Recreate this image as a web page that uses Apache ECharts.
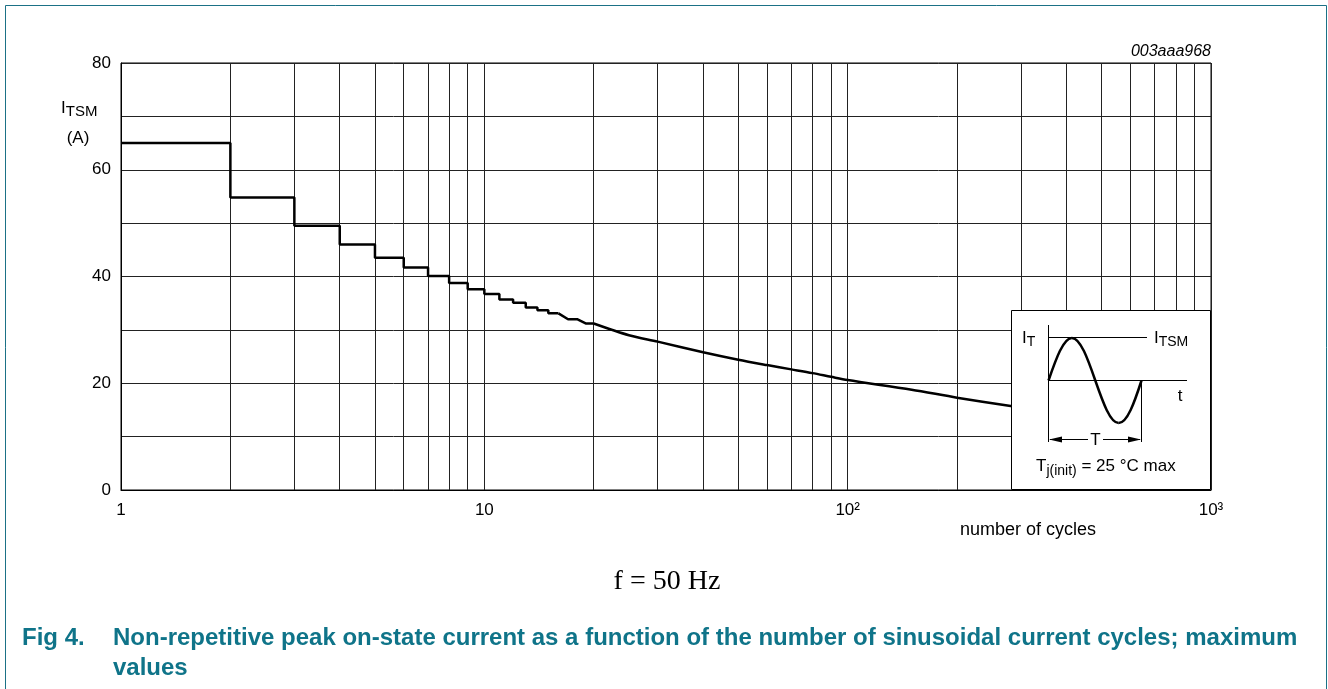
<!DOCTYPE html>
<html><head><meta charset="utf-8">
<script src="https://cdn.jsdelivr.net/npm/echarts@6/dist/echarts.min.js"></script>
<style>html,body{margin:0;padding:0;background:#fff}#c{width:1328px;height:689px}</style>
</head><body><div id="c"></div>
<script>
// ---- data ----
const stepCycles  = [1,2,3,4,5,6,7,8,9,10,11,12,13,14,15,16];
const stepCurrent = [65,54.8,49.5,46.0,43.5,41.7,40.1,38.8,37.6,36.7,35.7,35.1,34.2,33.7,33.1,33.1];
const tailCycles  = [16,17,18,19,20];
const tailCurrent = [33.1,32.0,32.0,31.2,31.2];
const curveCycles  = [20,25,30,40,50,60,70,80,90,100,150,200,290];
const curveCurrent = [31.2,29.0,27.8,25.8,24.4,23.4,22.6,21.9,21.2,20.6,18.8,17.3,15.6];
const minorGridCycles = [2,3,4,5,6,7,8,9,20,30,40,50,60,70,80,90,200,300,400,500,600,700,800,900];
const xTickValues = [1,10,100,1000];
const xTickLabels = ['1','10','10²','10³'];
const yTickValues = [0,20,40,60,80];
const yTickLabels = ['0','20','40','60','80'];

const SANS = '"Liberation Sans", Arial, sans-serif';
const TEAL = '#0f7489';
const ctx = document.createElement('canvas').getContext('2d');
function tw(t, f){ ctx.font = f; return ctx.measureText(t).width; }
function txt(x, y, t, f, opt){
  opt = opt || {};
  return {type:'text', x:x, y:y, z:100, silent:true,
    style:{text:t, font:f, fill:opt.fill||'#000', align:opt.align||'left', verticalAlign:opt.va||'middle'}};
}
function subText(x, y, main, sub, mainF, subF, dy){
  const w = tw(main, mainF);
  return [txt(x, y, main, mainF), txt(x + w, y + dy, sub, subF)];
}
function line(x1,y1,x2,y2,color,w){
  return {type:'line', z:100, silent:true, shape:{x1:x1,y1:y1,x2:x2,y2:y2}, style:{stroke:color||'#000', lineWidth:w||1}};
}
function bez(x1,y1,c1x,c1y,c2x,c2y,x2,y2){
  return {type:'bezierCurve', z:101, silent:true,
    shape:{x1:x1,y1:y1,cpx1:c1x,cpy1:c1y,cpx2:c2x,cpy2:c2y,x2:x2,y2:y2},
    style:{fill:null, stroke:'#000', lineWidth:2.5}};
}

const chart = echarts.init(document.getElementById('c'));

const graphics = [];
// page frame
graphics.push(line(5.5,5.5,1326.5,5.5,'#1b7186',1));
graphics.push(line(5.5,5.5,5.5,689,'#1b7186',1));
graphics.push(line(1326.5,5.5,1326.5,689,'#1b7186',1));
// figure code
graphics.push(txt(1211, 52, '003aaa968', 'italic 16px ' + SANS, {align:'right'}));
// y-axis name
graphics.push(...subText(61, 108.5, 'I', 'TSM', '17px ' + SANS, '15px ' + SANS, 3));
graphics.push(txt(78, 138, '(A)', '17px ' + SANS, {align:'center'}));
// x-axis name
graphics.push(txt(1028, 530, 'number of cycles', '18px ' + SANS, {align:'center'}));
// frequency note
graphics.push(txt(667, 582, 'f = 50 Hz', '28px "Liberation Serif", "Times New Roman", serif', {align:'center'}));
// caption
graphics.push(txt(22, 638, 'Fig 4.', 'bold 24px ' + SANS, {fill:TEAL}));
graphics.push(txt(113, 638, 'Non-repetitive peak on-state current as a function of the number of sinusoidal current cycles; maximum', 'bold 24px ' + SANS, {fill:TEAL}));
graphics.push(txt(113, 668, 'values', 'bold 24px ' + SANS, {fill:TEAL}));

// inset
const inset = [];
inset.push({type:'rect', z:99, silent:true, shape:{x:1011.5,y:310.5,width:199,height:179}, style:{fill:'#fff', stroke:'#000', lineWidth:1}});
inset.push(line(1048.5,325,1048.5,442));
inset.push(line(1048.5,337.5,1147,337.5));
inset.push(line(1048.5,380.5,1187,380.5));
inset.push(line(1141.5,380.5,1141.5,442));
inset.push(line(1050,439.5,1088,439.5));
inset.push(line(1103,439.5,1140,439.5));
inset.push({type:'polygon', z:100, silent:true, shape:{points:[[1049,439.5],[1062,436.5],[1062,442.5]]}, style:{fill:'#000'}});
inset.push({type:'polygon', z:100, silent:true, shape:{points:[[1141,439.5],[1128,436.5],[1128,442.5]]}, style:{fill:'#000'}});
inset.push(bez(1048.5,380.5, 1056.1,358.7, 1063.4,338, 1071.9,338));
inset.push(bez(1071.9,338, 1080.4,338, 1087.7,358.7, 1095.3,380.5));
inset.push(bez(1095.3,380.5, 1102.9,402.3, 1110.2,423, 1118.7,423));
inset.push(bez(1118.7,423, 1127.2,423, 1134.5,402.3, 1141.5,380.5));
inset.push(...subText(1022, 338, 'I', 'T', '17px ' + SANS, '14px ' + SANS, 4.5));
inset.push(...subText(1154, 338, 'I', 'TSM', '17px ' + SANS, '14px ' + SANS, 4));
inset.push(txt(1180, 396, 't', '17px ' + SANS, {align:'center'}));
inset.push(txt(1095.5, 440.5, 'T', '17px ' + SANS, {align:'center'}));
(function(){
  const f16 = '17px ' + SANS, f12 = '14px ' + SANS;
  let x = 1036;
  inset.push(txt(x, 466.5, 'T', f16)); x += tw('T', f16);
  inset.push(txt(x, 471.5, 'j(init)', f12)); x += tw('j(init)', f12);
  inset.push(txt(x, 466.5, ' = 25 °C max', f16));
})();
graphics.push(...inset);

function pairs(xs, ys){ return xs.map((v,i)=>[v, ys[i]]); }

chart.setOption({
  animation:false,
  backgroundColor:'#fff',
  grid:{left:121, right:117, top:63, bottom:199, show:true, borderColor:'#000', borderWidth:1, backgroundColor:'transparent'},
  xAxis:{type:'log', logBase:10, min:1, max:1000,
    axisLine:{show:true, lineStyle:{color:'#000', width:1}},
    axisTick:{show:false},
    splitLine:{show:true, lineStyle:{color:'#222', width:1}},
    axisLabel:{color:'#000', fontSize:17, fontFamily:SANS, margin:12,
      formatter:function(v){ const i = xTickValues.indexOf(Math.round(v)); return i>=0 ? xTickLabels[i] : ''; }}
  },
  yAxis:{type:'value', min:0, max:80, interval:10,
    axisLine:{show:true, lineStyle:{color:'#000', width:1}},
    axisTick:{show:false},
    splitLine:{show:true, lineStyle:{color:'#222', width:1}},
    axisLabel:{color:'#000', fontSize:17, fontFamily:SANS, margin:10,
      formatter:function(v){ const i = yTickValues.indexOf(v); return i>=0 ? yTickLabels[i] : ''; }}
  },
  series:[
    {type:'line', step:'end', data:pairs(stepCycles, stepCurrent), symbol:'none', z:3,
      lineStyle:{color:'#000', width:2.5},
      markLine:{silent:true, z:1, symbol:['none','none'], label:{show:false},
        lineStyle:{color:'#222', width:1, type:'solid'},
        emphasis:{disabled:true},
        data:minorGridCycles.map(v=>({xAxis:v}))}},
    {type:'line', data:pairs(tailCycles, tailCurrent), symbol:'none', z:3, lineStyle:{color:'#000', width:2.5}},
    {type:'line', smooth:0.3, data:pairs(curveCycles, curveCurrent), symbol:'none', z:3, lineStyle:{color:'#000', width:2.5}}
  ],
  graphic:graphics
});
</script></body></html>
